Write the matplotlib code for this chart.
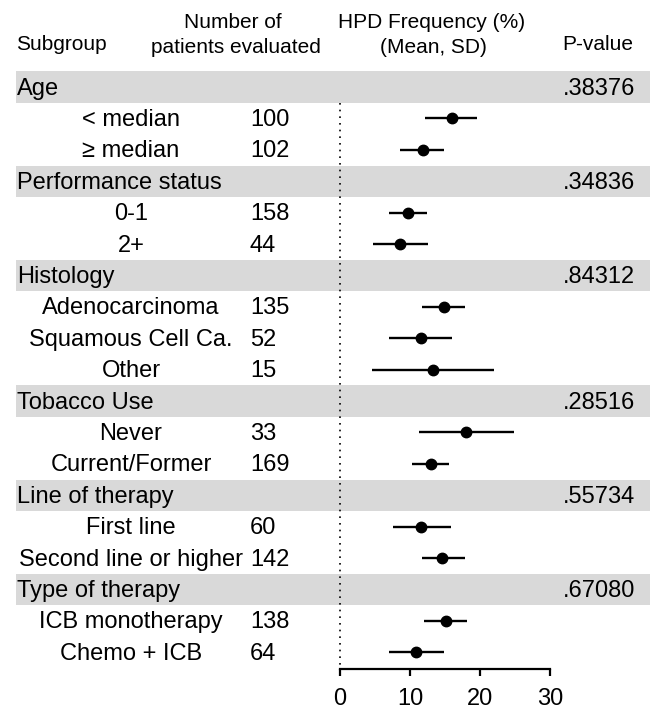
import matplotlib.pyplot as plt
from matplotlib.patches import Rectangle
from matplotlib.transforms import blended_transform_factory

plt.rcParams['font.family'] = ['Liberation Sans', 'DejaVu Sans']

# subgroup data
groups = ["Age", "Performance status", "Histology", "Tobacco Use",
          "Line of therapy", "Type of therapy"]
p_values = [".38376", ".34836", ".84312", ".28516", ".55734", ".67080"]
subgroups = [["< median", "≥ median"],
             ["0-1", "2+"],
             ["Adenocarcinoma", "Squamous Cell Ca.", "Other"],
             ["Never", "Current/Former"],
             ["First line", "Second line or higher"],
             ["ICB monotherapy", "Chemo + ICB"]]
n_patients = [[100, 102], [158, 44], [135, 52, 15], [33, 169], [60, 142], [138, 64]]
means = [[16.0, 11.8], [9.7, 8.6], [14.8, 11.5, 13.3], [18.0, 13.0],
         [11.6, 14.6], [15.1, 10.9]]
lower = [[12.2, 8.6], [7.0, 4.7], [11.7, 7.0, 4.5], [11.3, 10.3],
         [7.5, 11.7], [12.0, 7.0]]
upper = [[19.6, 14.9], [12.4, 12.5], [17.9, 16.0, 22.0], [24.8, 15.6],
         [15.8, 17.9], [18.2, 14.8]]
xticks = [0, 10, 20, 30]

W, H = 660, 717
fig = plt.figure(figsize=(W / 100, H / 100), dpi=100)

# forest panel: x 0..30 at 7 px per unit, bottom spine is the axis line
ax = fig.add_axes([340 / W, 1 - 669 / H, 210 / W, 669 / H])
ax.set_xlim(0, 30)
row_px, row0_px = 31.4, 87
ax.set_ylim((669 - row0_px) / row_px, -row0_px / row_px)
axis_row = (669 - row0_px) / row_px

for s in ['top', 'left', 'right']:
    ax.spines[s].set_visible(False)
ax.spines['bottom'].set_linewidth(1.6)
ax.set_yticks([])
ax.set_xticks(xticks)
ax.tick_params(axis='x', length=5, width=1.6, labelsize=17, pad=9)

tr = blended_transform_factory(fig.transFigure, ax.transData)
fs = 17
base = 0.24  # baseline offset below row centre

row = 0
pts_y, pts_m, pts_lo, pts_hi = [], [], [], []
for g, name in enumerate(groups):
    ax.add_patch(Rectangle((16 / W, row - 0.5), (650 - 16) / W, 1.0, transform=tr,
                           facecolor='#d9d9d9', edgecolor='none', clip_on=False, zorder=0))
    ax.text(17 / W, row + base, name, transform=tr, fontsize=fs, ha='left', va='baseline')
    ax.text(635 / W, row + base, p_values[g], transform=tr, fontsize=fs,
            ha='right', va='baseline')
    row += 1
    for k, sub in enumerate(subgroups[g]):
        ax.text(131 / W, row + base, sub, transform=tr, fontsize=fs,
                ha='center', va='baseline')
        ax.text(250 / W, row + base, str(n_patients[g][k]), transform=tr, fontsize=fs,
                ha='left', va='baseline')
        pts_y.append(row)
        pts_m.append(means[g][k])
        pts_lo.append(means[g][k] - lower[g][k])
        pts_hi.append(upper[g][k] - means[g][k])
        row += 1

# reference line at zero
ax.plot([0, 0], [0.5, axis_row], color='black', lw=1.2, ls=(0, (1, 3)),
        clip_on=False, zorder=2)

ax.errorbar(pts_m, pts_y, xerr=[pts_lo, pts_hi], fmt='o', color='black',
            ms=7.5, elinewidth=1.7, capsize=0, clip_on=False, zorder=3)

# column headers
hs = 15
fig.text(16 / W, 1 - 50 / H, "Subgroup", fontsize=hs, ha='left', va='baseline')
fig.text(233 / W, 1 - 28 / H, "Number of", fontsize=hs, ha='center', va='baseline')
fig.text(236 / W, 1 - 53 / H, "patients evaluated", fontsize=hs, ha='center', va='baseline')
fig.text(432 / W, 1 - 28 / H, "HPD Frequency (%)", fontsize=hs, ha='center', va='baseline')
fig.text(433 / W, 1 - 53 / H, "(Mean, SD)", fontsize=hs, ha='center', va='baseline')
fig.text(598 / W, 1 - 50 / H, "P-value", fontsize=hs, ha='center', va='baseline')

fig.savefig('out.png', dpi=100)
